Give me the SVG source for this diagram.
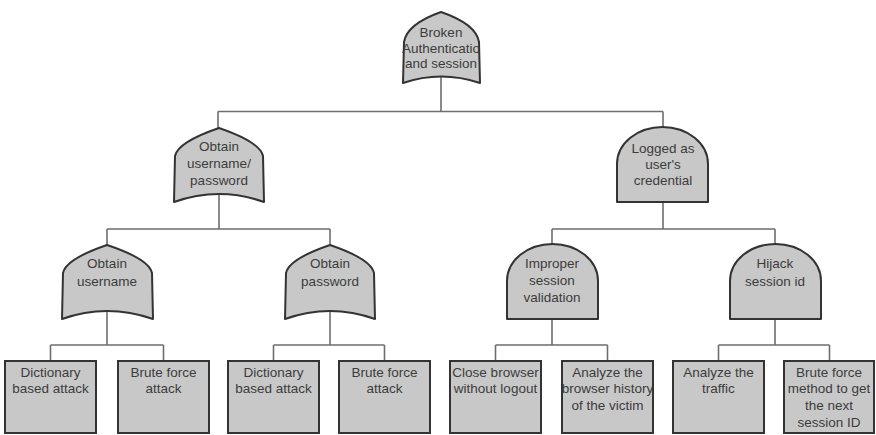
<svg xmlns="http://www.w3.org/2000/svg" width="876" height="435" viewBox="0 0 876 435">
<style>
.gate{fill:#c8c8c8;stroke:#333;stroke-width:2;stroke-linejoin:round}
.box{fill:#c8c8c8;stroke:#333;stroke-width:2}
.conn{fill:none;stroke:#6e6e6e;stroke-width:1.6}
text{font-family:"Liberation Sans",Arial,sans-serif;font-size:13.5px;fill:#3c3c3c;text-anchor:middle}
</style>
<rect width="876" height="435" fill="#fff"/>
<g id="connectors" class="conn">
<path d="M441,70 V111.5 M218,111.5 H663 M218,111.5 V130 M663,111.5 V130"/>
<path d="M219,190 V229 M107,229 H330 M107,229 V247 M330,229 V247"/>
<path d="M663,200 V229 M552,229 H775 M552,229 V246 M775,229 V246"/>
<path d="M107,310 V345 M50.5,345 H163.5 M50.5,345 V362 M163.5,345 V362"/>
<path d="M330,310 V345 M273.5,345 H384.5 M273.5,345 V362 M384.5,345 V362"/>
<path d="M552,317 V345 M495.5,345 H607.5 M495.5,345 V362 M607.5,345 V362"/>
<path d="M775,317 V345 M718.5,345 H829.5 M718.5,345 V362 M829.5,345 V362"/>
</g>
<g id="broken-auth">
<path class="gate" d="M441,12 Q407,24 404,42 L403,83 Q441,70 480,83 L479,42 Q476,24 441,12 Z"/>
<text x="441" y="37">Broken</text>
<text x="441" y="53">Authenticatio</text>
<text x="441" y="68">and session</text>
</g>
<g id="obtain-up">
<path class="gate" d="M219,128 Q178,142 175,156 L174,202 Q219,186 264,202 L263,156 Q260,142 219,128 Z"/>
<text x="219" y="151">Obtain</text>
<text x="219" y="168">username/</text>
<text x="219" y="185">password</text>
</g>
<g id="logged">
<path class="gate" d="M617,202 L617,164 A45.5,37 0 0 1 708,164 L708,202 Z"/>
<text x="663" y="153">Logged as</text>
<text x="663" y="169">user's</text>
<text x="663" y="185">credential</text>
</g>
<g id="obtain-username">
<path class="gate" d="M107,245 Q66,259 63,273 L62,319 Q107,303 153,319 L152,273 Q149,259 107,245 Z"/>
<text x="107" y="268">Obtain</text>
<text x="107" y="286">username</text>
</g>
<g id="obtain-password">
<path class="gate" d="M330,245 Q289,259 286,273 L285,319 Q330,303 375,319 L374,273 Q371,259 330,245 Z"/>
<text x="330" y="268">Obtain</text>
<text x="330" y="286">password</text>
</g>
<g id="improper">
<path class="gate" d="M507,319 L507,281 A45.5,37 0 0 1 598,281 L598,319 Z"/>
<text x="552" y="268">Improper</text>
<text x="552" y="285">session</text>
<text x="552" y="302">validation</text>
</g>
<g id="hijack">
<path class="gate" d="M730,319 L730,281 A45.5,37 0 0 1 821,281 L821,319 Z"/>
<text x="775" y="268">Hijack</text>
<text x="775" y="286">session id</text>
</g>
<g id="dict1">
<rect class="box" x="5" y="361" width="91" height="72"/>
<text x="50.5" y="377">Dictionary</text>
<text x="50.5" y="393">based attack</text>
</g>
<g id="brute1">
<rect class="box" x="118" y="361" width="91" height="72"/>
<text x="163.5" y="377">Brute force</text>
<text x="163.5" y="393">attack</text>
</g>
<g id="dict2">
<rect class="box" x="228" y="361" width="91" height="72"/>
<text x="273.5" y="377">Dictionary</text>
<text x="273.5" y="393">based attack</text>
</g>
<g id="brute2">
<rect class="box" x="339" y="361" width="91" height="72"/>
<text x="384.5" y="377">Brute force</text>
<text x="384.5" y="393">attack</text>
</g>
<g id="close-browser">
<rect class="box" x="450" y="361" width="91" height="72"/>
<text x="495.5" y="377">Close browser</text>
<text x="495.5" y="393">without logout</text>
</g>
<g id="analyze-history">
<rect class="box" x="562" y="361" width="91" height="72"/>
<text x="607.5" y="377">Analyze the</text>
<text x="607.5" y="393">browser history</text>
<text x="607.5" y="410">of the victim</text>
</g>
<g id="analyze-traffic">
<rect class="box" x="673" y="361" width="91" height="72"/>
<text x="718.5" y="377">Analyze the</text>
<text x="718.5" y="393">traffic</text>
</g>
<g id="brute-session">
<rect class="box" x="784" y="361" width="90" height="72"/>
<text x="829" y="377">Brute force</text>
<text x="829" y="393">method to get</text>
<text x="829" y="410">the next</text>
<text x="829" y="427">session ID</text>
</g>
</svg>
